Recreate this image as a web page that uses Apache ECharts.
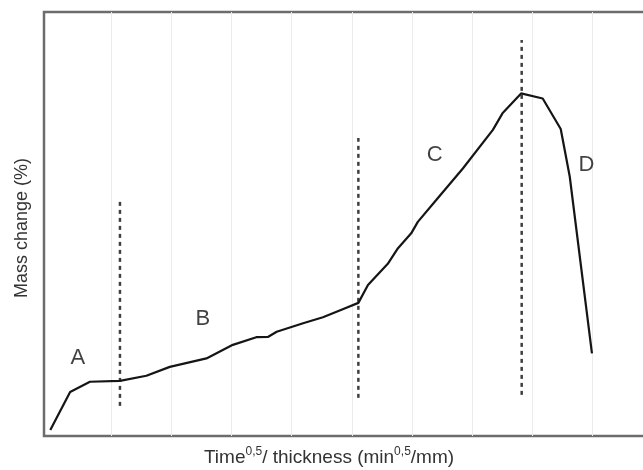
<!DOCTYPE html>
<html>
<head>
<meta charset="utf-8">
<title>Mass change vs. Time^0.5 / thickness</title>
<script src="https://cdn.jsdelivr.net/npm/echarts@6/dist/echarts.min.js"></script>
<style>
  html, body { margin: 0; padding: 0; background: #ffffff; overflow: hidden; }
  #chart { width: 643px; height: 470px; }
</style>
</head>
<body>
<div id="chart"></div>
<script>
// Normalised time^0.5/thickness (grid units) and mass change (% of plot height)
const timeX = [-0.02, 0.31, 0.64, 1.14, 1.58, 1.97, 2.58, 3.02, 3.41, 3.61, 3.75, 4.19, 4.52, 4.85,
  5.11, 5.27, 5.60, 5.77, 5.99, 6.10, 6.41, 6.85, 7.35, 7.51, 7.82, 8.18, 8.48, 8.63, 9.00];
const massY = [1.4, 10.4, 12.8, 13.0, 14.2, 16.3, 18.3, 21.5, 23.3, 23.4, 24.6, 26.6, 28.0, 29.9,
  31.4, 35.6, 40.6, 44.3, 47.8, 50.5, 55.7, 63.1, 72.2, 76.1, 80.8, 79.6, 72.4, 61.2, 19.5];

// Vertical grid positions
const gridTicks = [1, 2, 3, 4, 5, 6, 7, 8, 9];

// Stage boundaries (dashed): x position, lower and upper end
const boundaryX = [1.14, 5.11, 7.83];
const boundaryLow = [7.1, 9.0, 9.7];
const boundaryHigh = [56.1, 70.3, 93.4];

// Stage labels
const stageNames = ['A', 'B', 'C', 'D'];
const stageX = [0.44, 2.52, 6.38, 8.91];
const stageY = [18.4, 27.5, 66.3, 63.9];

const chart = echarts.init(document.getElementById('chart'), null, { renderer: 'canvas' });

const curve = timeX.map((x, i) => [x, massY[i]]);
const font = 'Liberation Sans, Arial, Helvetica, sans-serif';

const boundarySeries = boundaryX.map((x, i) => ({
  type: 'line',
  data: [[x, boundaryLow[i]], [x, boundaryHigh[i]]],
  symbol: 'none',
  silent: true,
  z: 3,
  lineStyle: { color: '#404040', width: 2.5, type: [4, 4] }
}));

const option = {
  animation: false,
  backgroundColor: '#ffffff',
  grid: {
    left: 44, top: 12, height: 424, width: 608,
    outerBoundsMode: 'none',
    containLabel: false,
    show: true,
    borderColor: '#6c6c6c',
    borderWidth: 2.5,
    backgroundColor: 'transparent'
  },
  xAxis: {
    type: 'value',
    min: -0.125,
    max: 10,
    axisLine: { show: false },
    axisTick: { show: false },
    axisLabel: { show: false },
    splitLine: { show: false }
  },
  yAxis: {
    type: 'value',
    min: 0,
    max: 100,
    axisLine: { show: false },
    axisTick: { show: false },
    axisLabel: { show: false },
    splitLine: { show: false }
  },
  graphic: [
    {
      type: 'text',
      x: 329,
      y: 458,
      style: {
        text: '{b|Time}{s|0,5}{b|/ thickness (min}{s|0,5}{b|/mm)}',
        align: 'center',
        verticalAlign: 'middle',
        rich: {
          b: { fontFamily: font, fontSize: 19, fill: '#333333', lineHeight: 22 },
          s: { fontFamily: font, fontSize: 12, fill: '#333333', lineHeight: 22, padding: [0, 0, 12, 0] }
        }
      }
    },
    {
      type: 'text',
      x: 22,
      y: 228,
      rotation: Math.PI / 2,
      style: {
        text: 'Mass change (%)',
        fontFamily: font,
        fontSize: 18,
        fill: '#333333',
        align: 'center',
        verticalAlign: 'middle'
      }
    }
  ],
  series: [
    {
      type: 'line',
      data: [[0, 0]],
      symbol: 'none',
      silent: true,
      lineStyle: { opacity: 0 },
      z: 1,
      markLine: {
        silent: true,
        z: 1,
        symbol: 'none',
        label: { show: false },
        lineStyle: { color: '#ebebeb', width: 1, type: 'solid' },
        data: gridTicks.map(v => ({ xAxis: v }))
      }
    },
    ...boundarySeries,
    {
      type: 'line',
      data: curve,
      symbol: 'none',
      silent: true,
      z: 4,
      lineStyle: { color: '#151515', width: 2.2 }
    },
    {
      type: 'scatter',
      data: stageNames.map((n, i) => ({ name: n, value: [stageX[i], stageY[i]] })),
      symbolSize: 0,
      silent: true,
      z: 5,
      label: {
        show: true,
        position: 'inside',
        formatter: p => p.name,
        fontFamily: font,
        fontSize: 22,
        color: '#111111',
        textBorderWidth: 0
      }
    }
  ]
};

chart.setOption(option);
</script>
</body>
</html>
